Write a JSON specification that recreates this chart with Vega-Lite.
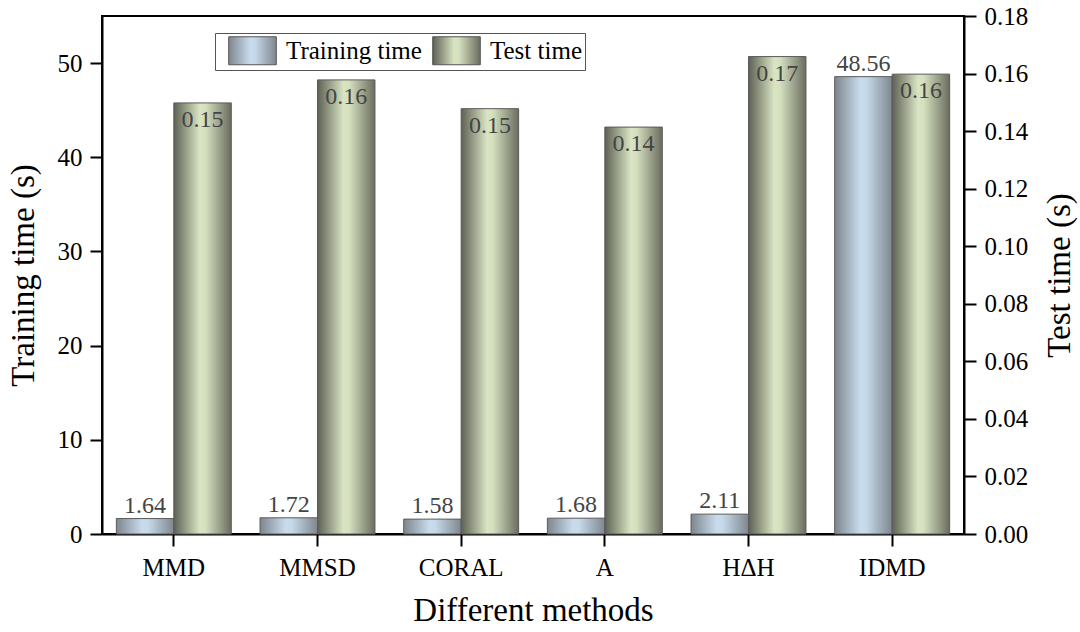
{
  "$schema": "https://vega.github.io/schema/vega-lite/v6.json",
  "autosize": "none",
  "width": 862,
  "height": 518,
  "padding": {"left": 102, "top": 16, "right": 116, "bottom": 98},
  "background": "white",
  "config": {
    "view": {"stroke": "black", "strokeWidth": 2},
    "font": "Liberation Serif",
    "axis": {
      "grid": false,
      "domainColor": "black",
      "domainWidth": 2,
      "tickColor": "black",
      "tickWidth": 2,
      "tickSize": 12,
      "labelFont": "Liberation Serif",
      "labelFontSize": 25,
      "labelColor": "black",
      "titleFont": "Liberation Serif",
      "titleFontSize": 33,
      "titleFontWeight": "normal",
      "titleColor": "black"
    }
  },
  "data": {
    "values": [
      {"method": "MMD", "series": "Training time", "value": 1.64, "label": "1.64"},
      {"method": "MMSD", "series": "Training time", "value": 1.72, "label": "1.72"},
      {"method": "CORAL", "series": "Training time", "value": 1.58, "label": "1.58"},
      {"method": "A", "series": "Training time", "value": 1.68, "label": "1.68"},
      {"method": "HΔH", "series": "Training time", "value": 2.11, "label": "2.11"},
      {"method": "IDMD", "series": "Training time", "value": 48.56, "label": "48.56"},
      {"method": "MMD", "series": "Test time", "value": 0.1498, "label": "0.15"},
      {"method": "MMSD", "series": "Test time", "value": 0.1578, "label": "0.16"},
      {"method": "CORAL", "series": "Test time", "value": 0.1478, "label": "0.15"},
      {"method": "A", "series": "Test time", "value": 0.1414, "label": "0.14"},
      {"method": "HΔH", "series": "Test time", "value": 0.1659, "label": "0.17"},
      {"method": "IDMD", "series": "Test time", "value": 0.1598, "label": "0.16"}
    ]
  },
  "encoding": {
    "x": {
      "field": "method",
      "type": "nominal",
      "sort": ["MMD", "MMSD", "CORAL", "A", "HΔH", "IDMD"],
      "scale": {"paddingInner": 0.2, "paddingOuter": 0.1},
      "axis": {"labelAngle": 0, "labelPadding": 9, "title": "Different methods", "titlePadding": 14}
    },
    "xOffset": {
      "field": "series",
      "type": "nominal",
      "scale": {"domain": ["Training time", "Test time"]}
    }
  },
  "layer": [
    {
      "transform": [{"filter": "datum.series === 'Training time'"}],
      "encoding": {
        "y": {
          "field": "value",
          "type": "quantitative",
          "scale": {"domain": [0, 55], "nice": false},
          "axis": {
            "orient": "left",
            "values": [0, 10, 20, 30, 40, 50],
            "labelPadding": 8,
            "title": "Training time (s)",
            "titlePadding": 17
          }
        }
      },
      "layer": [
        {
          "mark": {
            "type": "bar",
            "stroke": "#5a5a5a",
            "strokeWidth": 1,
            "color": {"gradient": "linear", "x1": 0, "y1": 0, "x2": 1, "y2": 0,
              "stops": [
                {"offset": 0, "color": "#7e868d"},
                {"offset": 0.45, "color": "#c9dcee"},
                {"offset": 0.55, "color": "#c6d9ea"},
                {"offset": 1, "color": "#7f878e"}
              ]}
          },
          "encoding": {}
        },
        {
          "mark": {"type": "line", "opacity": 0},
          "encoding": {
            "color": {
              "field": "series",
              "type": "nominal",
              "scale": {"domain": ["Training time", "Test time"], "range": ["#555555", "#555555"]},
              "legend": {
                "title": null,
                "orient": "none",
                "legendX": 113,
                "legendY": 17,
                "direction": "horizontal",
                "symbolType": "M-1.7,-1H1.7V1H-1.7Z",
                "symbolSize": 784,
                "symbolOffset": 20,
                "symbolOpacity": 1,
                "symbolStrokeWidth": 1,
                "labelFont": "Liberation Serif",
                "labelFontSize": 25,
                "labelColor": "black",
                "labelOffset": 19,
                "columnPadding": -10,
                "strokeColor": "#555555",
                "padding": 3,
                "fillColor": "white",
                "encode": {
                  "symbols": {
                    "update": {
                      "fill": {"signal": "datum.value === 'Training time' ? {gradient: 'linear', x1: 0, y1: 0, x2: 1, y2: 0, stops: [{offset: 0, color: '#7e868d'}, {offset: 0.45, color: '#c9dcee'}, {offset: 0.55, color: '#c6d9ea'}, {offset: 1, color: '#7f878e'}]} : {gradient: 'linear', x1: 0, y1: 0, x2: 1, y2: 0, stops: [{offset: 0, color: '#5e6154'}, {offset: 0.45, color: '#d9e4c3'}, {offset: 0.55, color: '#d5e0bf'}, {offset: 1, color: '#6a6d5e'}]}"},
                      "opacity": {"value": 1}
                    }
                  }
                }
              }
            }
          }
        },
        {
          "mark": {"type": "text", "baseline": "alphabetic", "dy": -6, "font": "Liberation Serif", "fontSize": 24, "color": "#444444"},
          "encoding": {"text": {"field": "label"}}
        }
      ]
    },
    {
      "transform": [{"filter": "datum.series === 'Test time'"}],
      "encoding": {
        "y": {
          "field": "value",
          "type": "quantitative",
          "scale": {"domain": [0, 0.18], "nice": false},
          "axis": {
            "orient": "right",
            "values": [0, 0.02, 0.04, 0.06, 0.08, 0.1, 0.12, 0.14, 0.16, 0.18],
            "format": ".2f",
            "labelPadding": 8,
            "title": "Test time (s)",
            "titleAngle": -90,
            "titleBaseline": "top",
            "titlePadding": 16
          }
        }
      },
      "layer": [
        {
          "mark": {
            "type": "bar",
            "stroke": "#5a5a5a",
            "strokeWidth": 1,
            "color": {"gradient": "linear", "x1": 0, "y1": 0, "x2": 1, "y2": 0,
              "stops": [
                {"offset": 0, "color": "#5e6154"},
                {"offset": 0.45, "color": "#d9e4c3"},
                {"offset": 0.55, "color": "#d5e0bf"},
                {"offset": 1, "color": "#6a6d5e"}
              ]}
          },
          "encoding": {}
        },
        {
          "mark": {"type": "text", "baseline": "top", "dy": 5, "font": "Liberation Serif", "fontSize": 24, "color": "#444444"},
          "encoding": {"text": {"field": "label"}}
        }
      ]
    }
  ],
  "resolve": {"scale": {"y": "independent"}}
}
